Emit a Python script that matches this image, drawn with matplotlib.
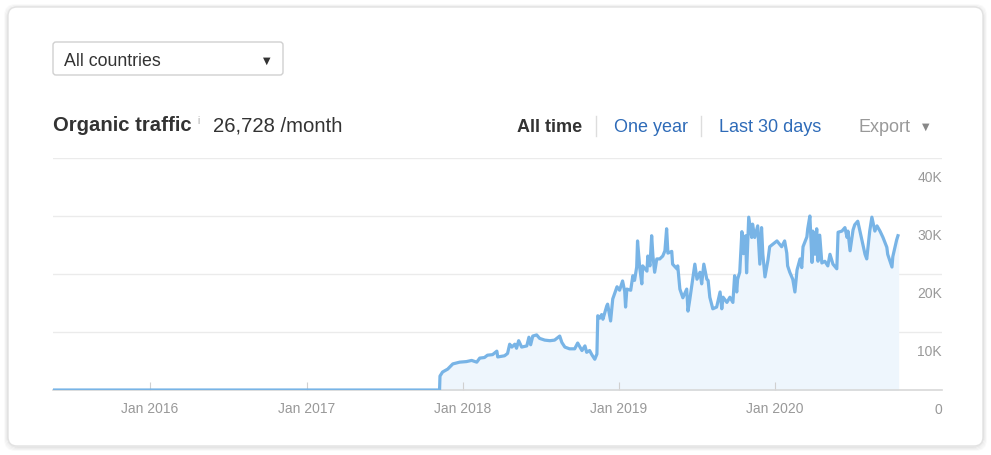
import pandas as pd
import matplotlib.pyplot as plt
from matplotlib.patches import FancyBboxPatch

plt.rcParams['font.family'] = ['Liberation Sans', 'DejaVu Sans']

# Organic traffic readings (date, visits/month)
dates = [
    "2015-05-19", "2017-11-08", "2017-11-09", "2017-11-15", "2017-11-27", "2017-12-09", "2017-12-25", "2018-01-10",
    "2018-01-22", "2018-02-03", "2018-02-10", "2018-02-21", "2018-02-28", "2018-03-12", "2018-03-22", "2018-03-24",
    "2018-04-09", "2018-04-16", "2018-04-21", "2018-04-26", "2018-05-03", "2018-05-07", "2018-05-12", "2018-05-19",
    "2018-05-31", "2018-06-05", "2018-06-09", "2018-06-14", "2018-06-23", "2018-06-30", "2018-07-12", "2018-07-24",
    "2018-08-04", "2018-08-16", "2018-08-21", "2018-08-28", "2018-09-08", "2018-09-20", "2018-09-27", "2018-10-07",
    "2018-10-14", "2018-10-18", "2018-10-25", "2018-10-30", "2018-11-06", "2018-11-11", "2018-11-13", "2018-11-18",
    "2018-11-22", "2018-11-25", "2018-12-04", "2018-12-06", "2018-12-13", "2018-12-18", "2018-12-28", "2019-01-03",
    "2019-01-10", "2019-01-15", "2019-01-17", "2019-01-20", "2019-01-29", "2019-02-03", "2019-02-07", "2019-02-12",
    "2019-02-14", "2019-02-19", "2019-02-24", "2019-02-26", "2019-03-08", "2019-03-10", "2019-03-15", "2019-03-19",
    "2019-03-22", "2019-03-26", "2019-03-31", "2019-04-07", "2019-04-14", "2019-04-19", "2019-04-23", "2019-04-26",
    "2019-05-05", "2019-05-07", "2019-05-17", "2019-05-19", "2019-05-24", "2019-05-31", "2019-06-09", "2019-06-12",
    "2019-06-16", "2019-06-23", "2019-06-28", "2019-07-03", "2019-07-10", "2019-07-14", "2019-07-19", "2019-07-26",
    "2019-07-29", "2019-08-02", "2019-08-09", "2019-08-18", "2019-08-26", "2019-08-30", "2019-09-02", "2019-09-11",
    "2019-09-18", "2019-09-25", "2019-09-29", "2019-10-04", "2019-10-06", "2019-10-11", "2019-10-16", "2019-10-20",
    "2019-10-25", "2019-10-27", "2019-11-01", "2019-11-08", "2019-11-10", "2019-11-15", "2019-11-22", "2019-11-27",
    "2019-12-01", "2019-12-04", "2019-12-09", "2019-12-16", "2019-12-20", "2020-01-06", "2020-01-17", "2020-01-24",
    "2020-01-29", "2020-01-31", "2020-02-05", "2020-02-12", "2020-02-17", "2020-02-22", "2020-02-29", "2020-03-04",
    "2020-03-07", "2020-03-16", "2020-03-18", "2020-03-23", "2020-03-28", "2020-03-30", "2020-04-04", "2020-04-08",
    "2020-04-11", "2020-04-15", "2020-04-20", "2020-04-27", "2020-05-04", "2020-05-09", "2020-05-16", "2020-05-25",
    "2020-05-28", "2020-06-06", "2020-06-13", "2020-06-18", "2020-06-20", "2020-06-25", "2020-07-02", "2020-07-06",
    "2020-07-13", "2020-07-23", "2020-07-30", "2020-08-03", "2020-08-10", "2020-08-15", "2020-08-22", "2020-08-27",
    "2020-09-03", "2020-09-10", "2020-09-19", "2020-09-21", "2020-10-01", "2020-10-03", "2020-10-12", "2020-10-15",
]
traffic = [
    0, 0, 2400, 3100, 3600, 4500, 4800, 4900,
    5100, 4800, 5500, 5600, 6000, 6100, 6700, 5700,
    5900, 6300, 7900, 7400, 7900, 7200, 8500, 7400,
    7600, 9100, 7800, 9300, 9500, 8900, 8600, 8500,
    8600, 9300, 8200, 7400, 7100, 7100, 8100, 6800,
    7600, 6500, 6800, 6100, 5300, 6200, 12800, 12400,
    13000, 12200, 14500, 14800, 11900, 15700, 17800, 17200,
    18800, 17000, 14300, 17400, 17200, 19700, 18900, 21200,
    25700, 21200, 18300, 21400, 20500, 23100, 21400, 26600,
    23100, 20300, 22600, 22600, 23100, 24000, 27800, 23600,
    23900, 21700, 20900, 21400, 17400, 15900, 17400, 13600,
    15500, 19100, 21700, 19100, 20300, 18300, 21700, 19100,
    18900, 16000, 14000, 14300, 16900, 14000, 16000, 15100,
    16000, 15100, 19700, 16900, 19100, 20300, 27300, 23500,
    26600, 20200, 29800, 26300, 28600, 26300, 28300, 21700,
    28000, 23400, 19500, 22400, 24700, 25700, 24700, 25700,
    23600, 21400, 20300, 19100, 16900, 20700, 22600, 21100,
    24700, 26400, 27800, 30000, 22000, 27400, 23400, 27800,
    22200, 26700, 21900, 22200, 21400, 23400, 21700, 20900,
    27200, 27400, 28000, 26300, 27400, 24000, 27600, 28500,
    29100, 25700, 23400, 22600, 27400, 29800, 27400, 28300,
    27400, 26300, 24600, 23400, 21200, 23000, 25900, 26600,
]
year_ticks = ["2016-01-01", "2017-01-01", "2018-01-01", "2019-01-01", "2020-01-01"]
year_labels = ["Jan 2016", "Jan 2017", "Jan 2018", "Jan 2019", "Jan 2020"]
y_ticks = [0, 10000, 20000, 30000, 40000]
y_labels = ["0", "10K", "20K", "30K", "40K"]

assert len(dates) == len(traffic)
x = pd.to_datetime(dates)

fig = plt.figure(figsize=(9.91, 4.56), dpi=100)

# background layer in pixel coordinates (card, header controls)
bg = fig.add_axes([0, 0, 1, 1], zorder=0)
bg.set_xlim(0, 991)
bg.set_ylim(456, 0)
bg.axis("off")

for i, a in enumerate([0.025, 0.035, 0.05, 0.07]):
    pad = 4 - i
    bg.add_patch(FancyBboxPatch((8 - pad + 1, 8 - pad + 2), 975 + 2 * pad - 2, 439 + 2 * pad - 2,
                                boxstyle="round,pad=0,rounding_size=10",
                                fc="none", ec="black", lw=1.2, alpha=a))
bg.add_patch(FancyBboxPatch((8, 8), 975, 439, boxstyle="round,pad=0,rounding_size=9",
                            fc="white", ec="#e2e2e2", lw=1))

# country dropdown
bg.add_patch(FancyBboxPatch((53, 43), 230, 33, boxstyle="round,pad=0,rounding_size=3",
                            fc="white", ec="#d0d0d0", lw=1))
bg.text(64, 61, "All countries", fontsize=12.8, color="#333333", va="center")
bg.text(267, 61, "▼", fontsize=7, color="#333333", va="center", ha="center",
        family="DejaVu Sans")

# title row
bg.text(53, 126, "Organic traffic", fontsize=14.6, fontweight="bold", color="#333333", va="center")
bg.text(198, 121, "i", fontsize=7, color="#aaaaaa", va="center", ha="center")
bg.text(213, 126, "26,728 /month", fontsize=14.6, color="#333333", va="center")

bg.text(517, 128, "All time", fontsize=13, fontweight="bold", color="#333333", va="center")
bg.plot([596, 596], [117, 137], color="#dddddd", lw=1)
bg.text(614, 128, "One year", fontsize=13, color="#2e6bb8", va="center")
bg.plot([701, 701], [117, 137], color="#dddddd", lw=1)
bg.text(719, 128, "Last 30 days", fontsize=13, color="#2e6bb8", va="center")
bg.text(858, 128, "Export", fontsize=13, color="#999999", va="center")
bg.text(926, 127, "▼", fontsize=7, color="#888888", va="center", ha="center",
        family="DejaVu Sans")

# chart
ax = fig.add_axes([53 / 991, 65 / 456, 889 / 991, 232 / 456], zorder=1)
ax.patch.set_alpha(0)

ax.fill_between(x, traffic, color="#eef6fd", zorder=1)
ax.plot(x, traffic, color="#78b4e6", lw=2.3, zorder=3, solid_joinstyle="round")

for v in y_ticks[1:]:
    ax.axhline(v, color="#ebebeb", lw=1, zorder=0)

ax.set_xlim(pd.Timestamp("2015-05-19"), pd.Timestamp("2021-01-26"))
ax.set_ylim(0, 40000)

for s in ["top", "right", "left"]:
    ax.spines[s].set_visible(False)
ax.spines["bottom"].set_color("#d8d8d8")
ax.spines["bottom"].set_linewidth(1.2)

ax.set_xticks(pd.to_datetime(year_ticks))
ax.set_xticklabels(year_labels)
ax.tick_params(axis="x", direction="in", length=6, color="#d0d0d0", labelsize=10,
               labelcolor="#999999", pad=8)
ax.set_yticks([])

for v, lab in zip(y_ticks, y_labels):
    ax.annotate(lab, xy=(1.0, v), xycoords=("axes fraction", "data"),
                xytext=(0, -13.4), textcoords="offset points",
                ha="right", va="center", fontsize=10, color="#999999")

fig.savefig("out.png", dpi=100)
